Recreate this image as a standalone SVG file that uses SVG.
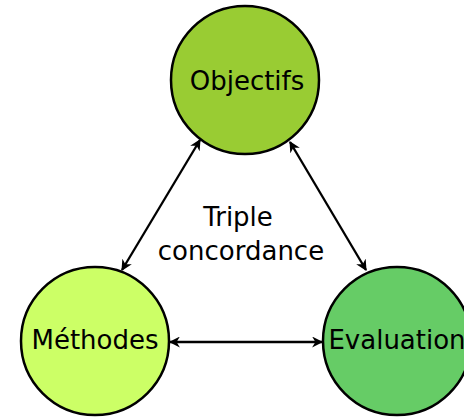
<svg xmlns="http://www.w3.org/2000/svg" width="464" height="418" viewBox="0 0 464 418">
<style>
.node circle{stroke:#000;stroke-width:2.5}
.node text,.lbl{font-family:"DejaVu Sans",sans-serif;font-size:26px;text-anchor:middle;fill:#000}
.conn line{stroke:#000;stroke-width:2.3;fill:none}
</style>
<defs>
<marker id="arr" viewBox="0 0 10 10" refX="9" refY="5" markerWidth="11" markerHeight="11" markerUnits="userSpaceOnUse" orient="auto-start-reverse">
<path d="M0,0 L10,5 L0,10 L3,5 Z" fill="#000"/>
</marker>
</defs>
<g id="conn" class="conn">
<line x1="200" y1="140" x2="122" y2="270" marker-start="url(#arr)" marker-end="url(#arr)"/>
<line x1="290" y1="142" x2="366" y2="270" marker-start="url(#arr)" marker-end="url(#arr)"/>
<line x1="170" y1="342" x2="322" y2="342" marker-start="url(#arr)" marker-end="url(#arr)"/>
</g>
<g id="objectifs" class="node">
<circle cx="245" cy="80" r="74" fill="#99cc33"/>
<text x="247" y="90">Objectifs</text>
</g>
<g id="methodes" class="node">
<circle cx="95" cy="341" r="74" fill="#ccff66"/>
<text x="95" y="349">Méthodes</text>
</g>
<g id="evaluation" class="node">
<circle cx="397" cy="341" r="74" fill="#66cc66"/>
<text x="397" y="349">Evaluation</text>
</g>
<g id="label">
<text class="lbl" x="238" y="226">Triple</text>
<text class="lbl" x="241" y="260">concordance</text>
</g>
</svg>
